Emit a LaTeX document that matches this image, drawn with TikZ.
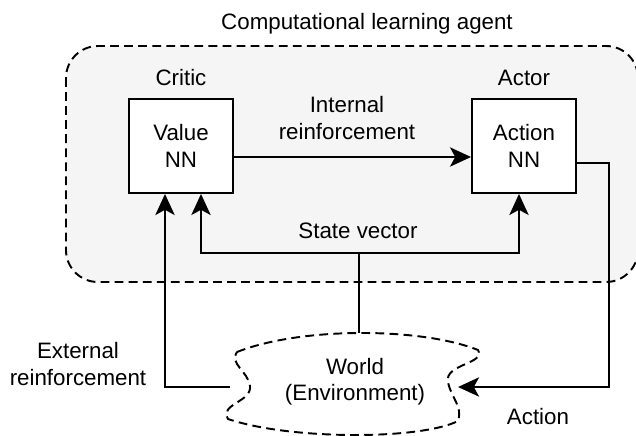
\documentclass[tikz,border=0pt]{standalone}
\usepackage{fontspec}
\setmainfont{Liberation Sans}
\usetikzlibrary{arrows.meta}

\begin{document}
\begin{tikzpicture}[x=0.02cm,y=-0.02cm,
  font=\fontsize{12.7}{15}\selectfont,line width=1.1pt,
  nnbox/.style={draw,fill=white,minimum width=2.08cm,minimum height=1.88cm,align=center,inner sep=0pt},
  lbl/.style={align=center,inner sep=0pt},
  dashline/.style={dash pattern=on 5pt off 3pt},
  arr/.style={-{Stealth[length=12pt,width=11pt,inset=3pt]}}]
\useasboundingbox (0,0) rectangle (636,436);
\draw[dashline,fill=black!4,rounded corners=0.64cm] (66,46) rectangle (638,282);
\node[lbl] (title) at (367,24) {Computational learning agent};
\node[lbl] (critic) at (181,78) {Critic};
\node[lbl] (actor) at (524,78) {Actor};
\node[nnbox] (value) at (181,146) {Value\\NN};
\node[nnbox] (action) at (524,146) {Action\\NN};
\node[lbl] (internal) at (347,118) {Internal\\reinforcement};
\node[lbl] (state) at (358,231) {State vector};
\draw[dashline,fill=white] (237,352) .. controls (300,327) and (420,327) .. (478,350)
  .. controls (486,364) and (444,364) .. (448,382)
  .. controls (451,398) and (463,406) .. (458,421)
  .. controls (420,440) and (290,440) .. (228,419)
  .. controls (219,404) and (252,402) .. (250,386)
  .. controls (248,371) and (229,364) .. (237,352) -- cycle;
\node[lbl] (world) at (355,382) {World\\(Environment)};
\node[lbl] (external) at (78,364) {External\\reinforcement};
\node[lbl] (actlbl) at (538,417) {Action};
\coordinate (wtop) at (359,333);
\coordinate (wleft) at (230,387);
\coordinate (wright) at (458,387);
\coordinate (split) at (359,253);
\draw[arr] ([yshift=-0.22cm]value.east) -- ([yshift=-0.22cm]action.west);
\draw (wtop) -- (split);
\draw[arr] (split) -| ([xshift=0.4cm]value.south);
\draw[arr] (split) -| ([xshift=-0.1cm]action.south);
\draw[arr] (wleft) -| ([xshift=-0.32cm]value.south);
\draw[arr] ([yshift=-0.34cm]action.east) -- ++(0.64cm,0) |- (wright);
\end{tikzpicture}
\end{document}
